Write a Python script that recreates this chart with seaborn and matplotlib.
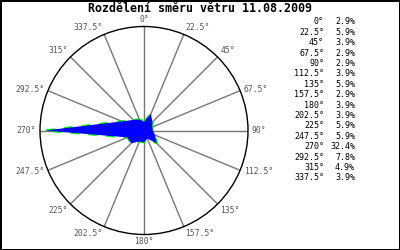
import numpy as np
import pandas as pd
import matplotlib
matplotlib.use("Agg")
import matplotlib.pyplot as plt
import seaborn as sns

# ---- data ----
directions = [0, 22.5, 45, 67.5, 90, 112.5, 135, 157.5,
              180, 202.5, 225, 247.5, 270, 292.5, 315, 337.5]
direction_labels = ["0°", "22.5°", "45°", "67.5°", "90°", "112.5°", "135°", "157.5°",
                    "180°", "202.5°", "225°", "247.5°", "270°", "292.5°", "315°", "337.5°"]
percent = [2.9, 5.9, 3.9, 2.9, 2.9, 3.9, 5.9, 2.9,
           3.9, 3.9, 5.9, 5.9, 32.4, 7.8, 4.9, 3.9]
title = "Rozdělení směru větru 11.08.2009"

sns.set_theme(style="white")
plt.rcParams["font.family"] = ["DejaVu Sans Mono", "DejaVu Sans"]

W, H = 400, 250
fig = plt.figure(figsize=(W / 100, H / 100), dpi=100, facecolor="white",
                 edgecolor="black", linewidth=2)

cx, cy, rad = 144, 130.5, 104
ax = fig.add_axes([(cx - rad) / W, (H - cy - rad) / H, 2 * rad / W, 2 * rad / H],
                  projection="polar")
ax.set_theta_zero_location("N")
ax.set_theta_direction(-1)
ax.set_facecolor("white")

theta = np.deg2rad(directions)
rmax = max(percent) * 1.05
ax.set_ylim(0, rmax)

df = pd.DataFrame({"theta": list(theta) + [theta[0]],
                   "pct": list(percent) + [percent[0]]})

# green dashed outline beneath, blue fill on top
sns.lineplot(data=df, x="theta", y="pct", sort=False, estimator=None, ax=ax,
             color="#00ff00", linestyle=(0, (4, 4)), linewidth=1.6, zorder=3)
ax.fill(df["theta"], df["pct"], color="#0000ff", edgecolor="none", zorder=4)
ax.set_xlabel("")
ax.set_ylabel("")

ax.set_yticks([])
ax.set_xticks(theta)
ax.set_xticklabels([])
ax.xaxis.grid(True, color="#777777", linewidth=1)
ax.yaxis.grid(False)
ax.spines["polar"].set_color("black")
ax.spines["polar"].set_linewidth(1)
ax.tick_params(length=0)

for th, lab in zip(theta, direction_labels):
    s, c = np.sin(th), np.cos(th)
    ha = "center" if abs(s) < 0.3 else ("left" if s > 0 else "right")
    va = "center" if abs(c) < 0.5 else ("bottom" if c > 0 else "top")
    ax.annotate(lab, xy=(th, rmax), xytext=(4 * s, 3 * c),
                textcoords="offset pixels", ha=ha, va=va, fontsize=5.8,
                color="#555555", annotation_clip=False)

fig.text(0.5, 1 - 8.5 / H, title, ha="center", va="center",
         fontsize=8.4, fontweight="bold", color="black")

y0, dy = 22, 10.4
for i, (lab, p) in enumerate(zip(direction_labels, percent)):
    y = 1 - (y0 + i * dy) / H
    fig.text(324 / W, y, lab, ha="right", va="center", fontsize=6, color="black")
    fig.text(355 / W, y, f"{p:.1f}%", ha="right", va="center", fontsize=6, color="black")

fig.savefig("out.png", dpi=100, facecolor="white")
